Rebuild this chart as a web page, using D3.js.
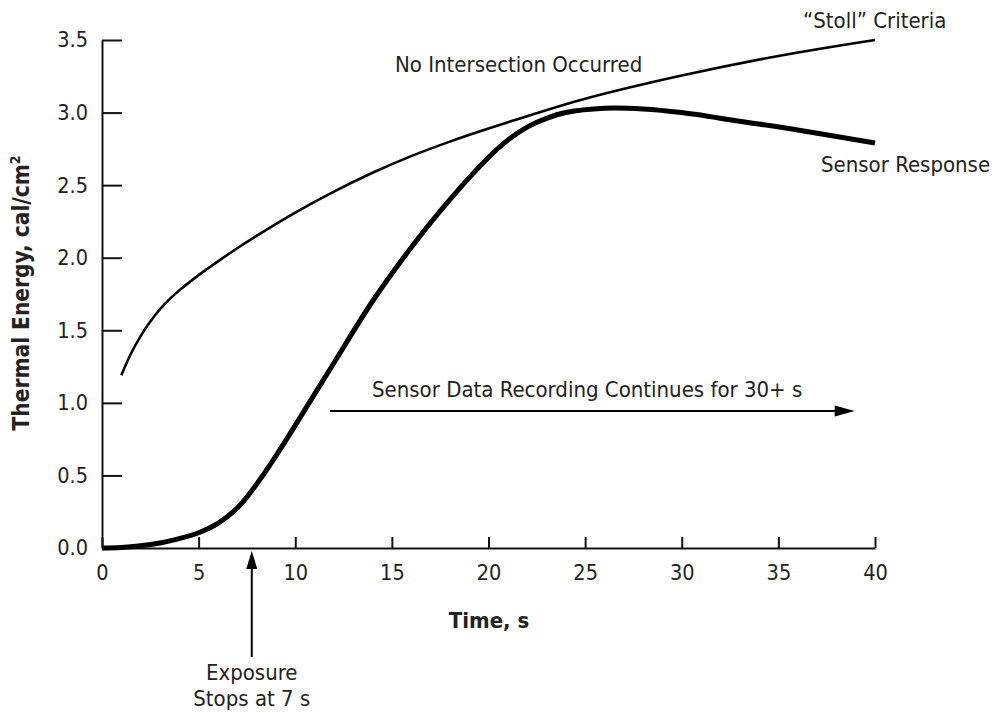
<!DOCTYPE html>
<html><head><meta charset="utf-8">
<script src="https://cdn.jsdelivr.net/npm/d3@7"></script>
<style>
body{margin:0;background:#fff;}
svg{display:block;}
svg text{font-family:"DejaVu Sans Condensed","DejaVu Sans",Verdana,sans-serif;font-stretch:condensed;}
</style></head><body>
<svg id="c" width="995" height="713"></svg>
<script>
// ---- data ----
const xTicks = [0,5,10,15,20,25,30,35,40];
const yTicks = [0.0,0.5,1.0,1.5,2.0,2.5,3.0,3.5];
const stollX = [1,1.5,2,2.5,3,3.5,4,5,6,7,8,10,12,14,16,18,20,22,25,30,35,40];
const stollY = [1.19,1.34,1.46,1.56,1.645,1.715,1.775,1.88,1.975,2.065,2.15,2.31,2.455,2.585,2.70,2.80,2.89,2.975,3.095,3.255,3.39,3.50];
const sensorX = [0,1,2,3,4,5,6,7,8,9,10,11,12,14,16,18,20,21,22,23,24,26,28,30,33,36,40];
const sensorY = [0,0.003,0.015,0.035,0.065,0.105,0.17,0.275,0.44,0.635,0.845,1.06,1.275,1.70,2.07,2.40,2.69,2.81,2.90,2.96,3.00,3.03,3.025,3.00,2.94,2.88,2.79];
const exposureX = 7.75;
const recordArrow = {x0:11.8, x1:38.95, y:0.944};

const svg = d3.select("#c");
const x = d3.scaleLinear().domain([0,40]).range([102,875]);
const y = d3.scaleLinear().domain([0,3.5]).range([548,40]);

// axes
const xa = svg.append("g").attr("transform","translate(0,548)")
  .call(d3.axisBottom(x).tickValues(xTicks).tickFormat(d3.format("d")).tickSizeInner(-11).tickSizeOuter(0).tickPadding(17));
const ya = svg.append("g").attr("transform","translate(102,0)")
  .call(d3.axisLeft(y).tickValues(yTicks).tickFormat(d3.format(".1f")).tickSizeInner(-20).tickSizeOuter(0).tickPadding(14));
[xa,ya].forEach(a=>{
  a.selectAll("path,line").attr("stroke","#111").attr("stroke-width",2);
  a.selectAll("text").attr("font-size",21.5).attr("fill","#222").attr("font-family",null);
});

const line = d3.line().x(d=>x(d[0])).y(d=>y(d[1])).curve(d3.curveCatmullRom.alpha(0.5));
svg.append("path").datum(stollX.map((v,i)=>[v,stollY[i]]))
  .attr("d",line).attr("fill","none").attr("stroke","#000").attr("stroke-width",2.6);
svg.append("path").datum(sensorX.map((v,i)=>[v,sensorY[i]]))
  .attr("d",line).attr("fill","none").attr("stroke","#000").attr("stroke-width",5);

// exposure arrow
const ex = x(exposureX);
svg.append("line").attr("x1",ex).attr("x2",ex).attr("y1",y(0)+109).attr("y2",y(0)+18)
  .attr("stroke","#000").attr("stroke-width",2);
svg.append("path").attr("d",`M${ex},${y(0)+3} L${ex-5.5},${y(0)+21} L${ex+5.5},${y(0)+21} Z`).attr("fill","#000");

// recording arrow
const ax0 = x(recordArrow.x0), ax1 = x(recordArrow.x1), ay = y(recordArrow.y);
svg.append("line").attr("x1",ax0).attr("x2",ax1-16).attr("y1",ay).attr("y2",ay)
  .attr("stroke","#000").attr("stroke-width",2);
svg.append("path").attr("d",`M${ax1},${ay} L${ax1-20},${ay-5.5} L${ax1-20},${ay+5.5} Z`).attr("fill","#000");

// texts
const T = (tx,ty,s,opt={})=>svg.append("text").attr("x",tx).attr("y",ty).text(s)
  .attr("font-size",opt.size||22).attr("fill","#222").attr("text-anchor",opt.anchor||"start")
  .attr("font-weight",opt.weight||"normal");
T(395,72,"No Intersection Occurred");
T(803,28,"\u201CStoll\u201D Criteria");
T(821,172,"Sensor Response");
T(372,397,"Sensor Data Recording Continues for 30+ s");
T(ex,680,"Exposure",{anchor:"middle"});
T(ex,706,"Stops at 7 s",{anchor:"middle"});
T(489,628,"Time, s",{anchor:"middle",weight:"bold"});

const yl = svg.append("text").attr("transform","translate(29,293) rotate(-90)")
  .attr("text-anchor","middle").attr("font-size",22.5).attr("font-weight","bold").attr("fill","#222");
yl.append("tspan").text("Thermal Energy, cal/cm");
yl.append("tspan").text("2").attr("font-size",14).attr("dy",-9);
</script>
</body></html>
